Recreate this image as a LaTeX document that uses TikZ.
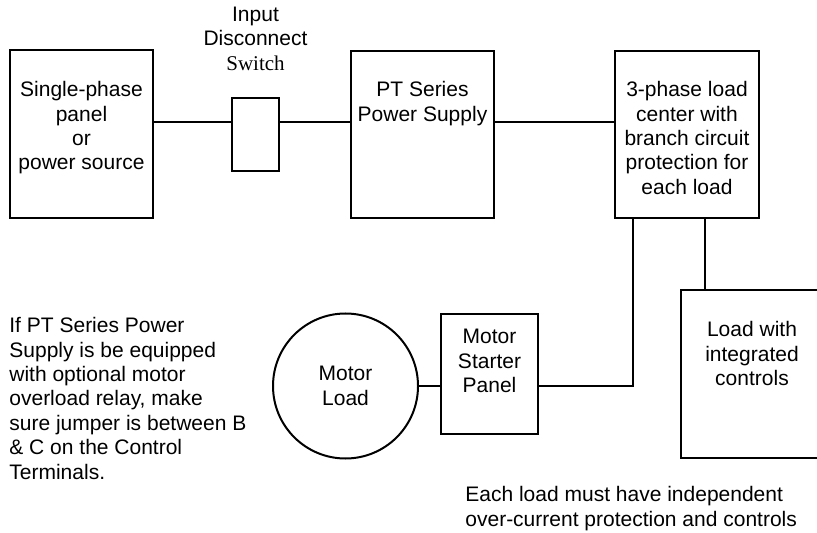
\documentclass[tikz,border=0pt]{standalone}
\usepackage{fontspec}
\setmainfont{Liberation Sans}
\newfontfamily\timesfont{Liberation Serif}
\usetikzlibrary{positioning, calc}
\newcommand{\diagfont}{\fontsize{10.5}{12.2}\selectfont}
\tikzset{
    box/.style={rectangle, draw=black, line width=1pt, inner sep=0pt},
    boxtext/.style={anchor=north, inner sep=0pt, align=center, font=\diagfont},
    wire/.style={line width=1pt, black},
    note/.style={inner sep=0pt, align=left, anchor=north west, font=\diagfont}
}

\begin{document}
\begin{tikzpicture}[x=0.5pt, y=-0.5pt]
    \clip (0,0) rectangle (817,533);

    % Supply chain
    \node[box, minimum width=71.5pt, minimum height=84pt,
          label={[boxtext, yshift=-16pt]north:{Single-phase\\panel\\or\\power source}}]
          (source) at (81.5,134) {};
    \node[box, minimum width=23.5pt, minimum height=36.5pt] (switch) at (255.5,134.5) {};
    \node[boxtext, anchor=south, above=13pt of switch] (swlabel)
          {Input\\Disconnect\\{\timesfont Switch}};
    \node[box, minimum width=71.5pt, minimum height=83.5pt,
          label={[boxtext, yshift=-15.5pt]north:{PT Series\\Power Supply}}]
          (supply) at (422.5,134.5) {};
    \node[box, minimum width=72pt, minimum height=83.5pt,
          label={[boxtext, yshift=-15.5pt]north:{3-phase load\\center with\\branch circuit\\protection for\\each load}}]
          (loadctr) at (687,134.5) {};

    % Loads
    \node[box, minimum width=71pt, minimum height=84pt,
          label={[boxtext, yshift=-16pt]north:{Load with\\integrated\\controls}}]
          (load) at (752,374) {};
    \node[box, minimum width=48.5pt, minimum height=60pt,
          label={[boxtext, yshift=-8pt]north:{Motor\\Starter\\Panel}}]
          (starter) at (489.5,374) {};
    \node[circle, draw=black, line width=1pt, minimum size=72.5pt, inner sep=0pt,
          align=center, font=\diagfont] (motor) at (345.5,386) {Motor\\Load};

    % Wires
    \coordinate (bus) at (0,122);
    \draw[wire] (source.east |- bus) -- (switch.west |- bus);
    \draw[wire] (switch.east |- bus) -- (supply.west |- bus);
    \draw[wire] (supply.east |- bus) -- (loadctr.west |- bus);
    \draw[wire] ([xshift=-27pt]loadctr.south) |- (starter.east |- motor.center);
    \draw[wire] (motor.east) -- (starter.west |- motor.east);
    \draw[wire] ([xshift=9pt]loadctr.south) -- ([xshift=9pt]loadctr.south |- load.north);

    % Notes
    \node[note] (relaynote) at (9,317)
          {If PT Series Power\\Supply is be equipped\\with optional motor\\overload relay, make\\sure jumper is between B\\\& C on the Control\\Terminals.};
    \node[note] (loadnote) at (465,486)
          {Each load must have independent\\over-current protection and controls};
\end{tikzpicture}
\end{document}
